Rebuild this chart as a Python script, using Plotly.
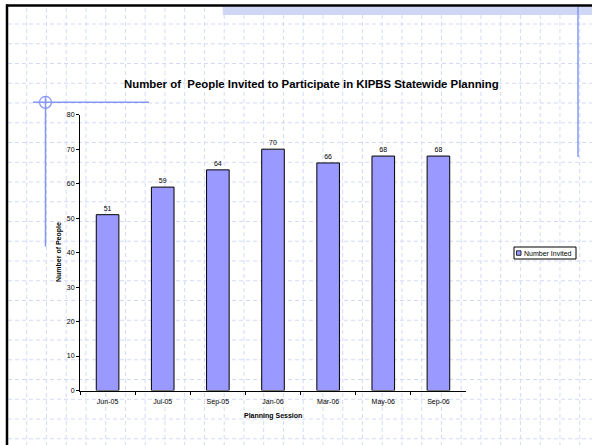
import plotly.graph_objects as go

sessions = ["Jun-05", "Jul-05", "Sep-05", "Jan-06", "Mar-06", "May-06", "Sep-06"]
invited = [51, 59, 64, 70, 66, 68, 68]
y_ticks = [0, 10, 20, 30, 40, 50, 60, 70, 80]
series_name = "Number Invited"

W, H = 592, 445
FONT = "Arial, Liberation Sans, sans-serif"
BAR = "#9999FF"

def px(x):
    return x / W

def py(y):
    return 1 - y / H

fig = go.Figure()
fig.add_trace(go.Bar(
    x=sessions, y=invited, name=series_name,
    marker=dict(color=BAR, line=dict(color="#000000", width=1)),
    width=0.41,
    text=[str(v) for v in invited], textposition="outside",
    textfont=dict(size=7, color="#000000", family=FONT),
    cliponaxis=False, showlegend=False, hoverinfo="skip",
))

shapes = []
grid_col = "#D3DAF7"
# dashed background grid
x = 26.7
while x < W:
    shapes.append(dict(type="line", xref="paper", yref="paper", x0=px(x), x1=px(x), y0=py(8), y1=py(H),
                       line=dict(color=grid_col, width=1, dash="4px,3px"), layer="below"))
    x += 19.75
y = 24.0
while y < H:
    shapes.append(dict(type="line", xref="paper", yref="paper", x0=px(8), x1=px(W), y0=py(y), y1=py(y),
                       line=dict(color=grid_col, width=1, dash="4px,3px"), layer="below"))
    y += 19.75
# hatched band at top
shapes.append(dict(type="rect", xref="paper", yref="paper", x0=px(222.7), x1=px(W), y0=py(15), y1=py(6.5),
                   fillcolor="#D0D7F6", line=dict(width=0), layer="below"))
# slide border (black)
shapes.append(dict(type="line", xref="paper", yref="paper", x0=px(7), x1=px(7), y0=py(4.5), y1=py(H),
                   line=dict(color="#000000", width=2.5)))
shapes.append(dict(type="line", xref="paper", yref="paper", x0=px(6), x1=px(W), y0=py(5.5), y1=py(5.5),
                   line=dict(color="#000000", width=2.5)))
blue = "#8497F2"
# right vertical blue line
shapes.append(dict(type="line", xref="paper", yref="paper", x0=px(578), x1=px(578), y0=py(7), y1=py(157),
                   line=dict(color=blue, width=1.5)))
# crosshair
shapes.append(dict(type="line", xref="paper", yref="paper", x0=px(33), x1=px(149), y0=py(102.3), y1=py(102.3),
                   line=dict(color=blue, width=1.5)))
shapes.append(dict(type="line", xref="paper", yref="paper", x0=px(45.5), x1=px(45.5), y0=py(96), y1=py(246.5),
                   line=dict(color=blue, width=1.5)))
shapes.append(dict(type="circle", xref="paper", yref="paper", x0=px(39.5), x1=px(51.5), y0=py(96.3), y1=py(108.3),
                   line=dict(color=blue, width=1.2)))
# legend box and swatch
shapes.append(dict(type="rect", xref="paper", yref="paper", x0=px(514), x1=px(576), y0=py(259), y1=py(247),
                   fillcolor="#FFFFFF", line=dict(color="#000000", width=1)))
shapes.append(dict(type="rect", xref="paper", yref="paper", x0=px(516.5), x1=px(521), y0=py(255.3), y1=py(250.8),
                   fillcolor=BAR, line=dict(color="#000000", width=0.8)))

annotations = [
    dict(text="<b>Number of  People Invited to Participate in KIPBS Statewide Planning</b>",
         xref="paper", yref="paper", x=px(311.5), y=py(84.5), showarrow=False,
         font=dict(size=11.4, family=FONT, color="#000000"), xanchor="center", yanchor="middle"),
    dict(text="<b>Number of People</b>", xref="paper", yref="paper", x=px(58.5), y=py(252.5),
         showarrow=False, textangle=-90, font=dict(size=7, family=FONT, color="#000000"),
         xanchor="center", yanchor="middle"),
    dict(text="<b>Planning Session</b>", xref="paper", yref="paper", x=px(273), y=py(415.5),
         showarrow=False, font=dict(size=7, family=FONT, color="#000000"),
         xanchor="center", yanchor="middle"),
    dict(text=series_name, xref="paper", yref="paper", x=px(522), y=py(253),
         showarrow=False, font=dict(size=7, family=FONT, color="#000000"),
         xanchor="left", yanchor="middle"),
]

fig.update_layout(
    template="none",
    width=W, height=H,
    margin=dict(l=0, r=0, t=0, b=0),
    paper_bgcolor="#FFFFFF", plot_bgcolor="rgba(0,0,0,0)",
    font=dict(family=FONT, size=7, color="#000000"),
    shapes=shapes, annotations=annotations,
    showlegend=False, hovermode=False,
    xaxis=dict(domain=[px(80), px(466)], showgrid=False, showline=True, linecolor="#000000", linewidth=1,
               ticks="outside", ticklen=3, tickcolor="#000000", tickson="boundaries",
               ticklabelstandoff=4,
               tickfont=dict(size=7, family=FONT, color="#000000"), zeroline=False, fixedrange=True),
    yaxis=dict(domain=[py(390.5), py(114.7)], range=[0, 80], tickvals=y_ticks, showgrid=False,
               showline=True, linecolor="#000000", linewidth=1, ticks="outside", ticklen=3,
               tickcolor="#000000", tickfont=dict(size=7, family=FONT, color="#000000"),
               zeroline=False, fixedrange=True),
)

fig.write_html("out.html", config={"displayModeBar": False, "staticPlot": True},
               post_script="document.body.style.margin='0';document.body.style.overflow='hidden';")
